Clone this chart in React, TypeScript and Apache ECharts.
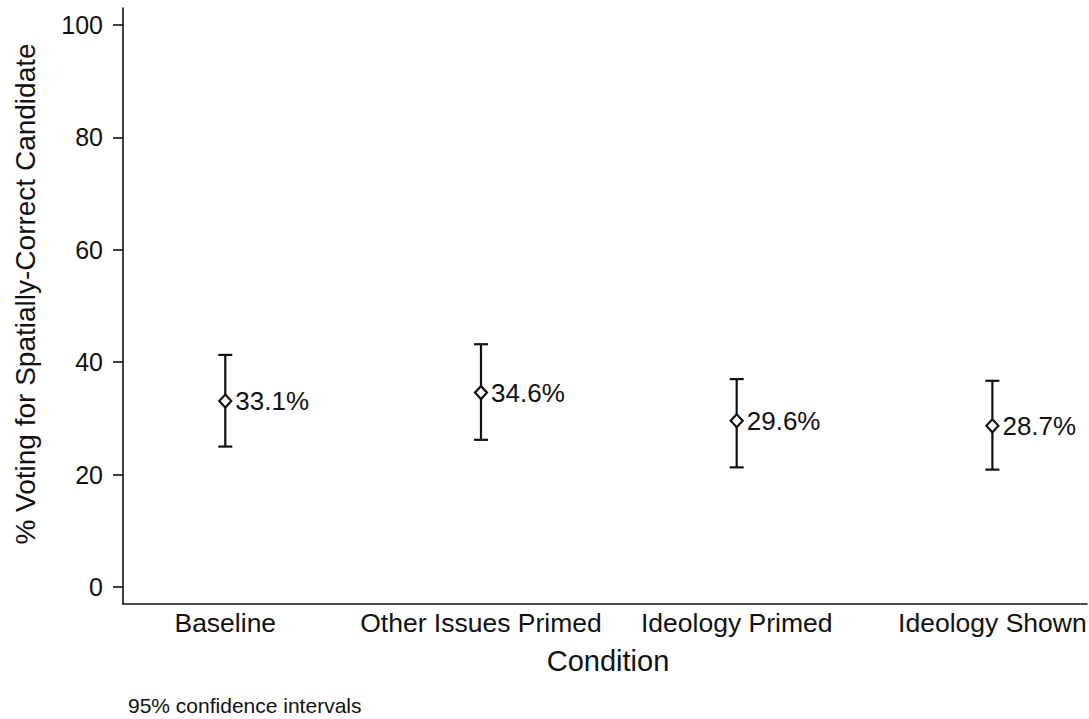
import React, { useEffect, useRef } from "react";
import * as echarts from "echarts";

const categories = ["Baseline", "Other Issues Primed", "Ideology Primed", "Ideology Shown"];
const means = [33.1, 34.6, 29.6, 28.7];
const lower = [25.0, 26.2, 21.3, 20.9];
const upper = [41.3, 43.2, 37.0, 36.7];
const yTicks = [0, 20, 40, 60, 80, 100];
const xPositions = [1, 2, 3, 4];

const FONT = "'Liberation Sans', Arial, Helvetica, sans-serif";
const INK = "#111";

export default function App() {
  const ref = useRef<HTMLDivElement>(null);

  useEffect(() => {
    if (!ref.current) return;
    const chart = echarts.init(ref.current, undefined, { renderer: "svg" });

    const ciData = xPositions.map((x, i) => [x, lower[i], upper[i]]);
    const pointData = xPositions.map((x, i) => [x, means[i]]);

    chart.setOption({
      animation: false,
      backgroundColor: "#ffffff",
      textStyle: { fontFamily: FONT, color: INK },
      grid: { left: 123, right: 2, top: 8, bottom: 115, outerBoundsMode: "none" },
      xAxis: {
        type: "value",
        min: 0.6,
        max: 4.37,
        splitLine: { show: false },
        axisLine: { show: true, onZero: false, lineStyle: { color: INK, width: 1.6 } },
        axisTick: { show: false },
        axisLabel: {
          customValues: xPositions,
          formatter: (v: number) => categories[Math.round(v) - 1] ?? "",
          fontSize: 26.5,
          fontFamily: FONT,
          color: INK,
          margin: 5,
        },
      },
      yAxis: {
        type: "value",
        min: -3,
        max: 103,
        splitLine: { show: false },
        axisLine: { show: true, onZero: false, lineStyle: { color: INK, width: 1.6 } },
        axisTick: { show: true, customValues: yTicks, length: 10, lineStyle: { color: INK, width: 1.6 } },
        axisLabel: {
          customValues: yTicks,
          fontSize: 25,
          fontFamily: FONT,
          color: INK,
          margin: 20,
        },
      },
      graphic: [
        {
          type: "text",
          x: 25,
          y: 294,
          rotation: Math.PI / 2,
          style: {
            text: "% Voting for Spatially-Correct Candidate",
            font: `28px ${FONT}`,
            fill: INK,
            align: "center",
            verticalAlign: "middle",
          },
        },
        {
          type: "text",
          x: 608,
          y: 661,
          style: {
            text: "Condition",
            font: `29px ${FONT}`,
            fill: INK,
            align: "center",
            verticalAlign: "middle",
          },
        },
        {
          type: "text",
          x: 128,
          y: 705,
          style: {
            text: "95% confidence intervals",
            font: `21px ${FONT}`,
            fill: INK,
            align: "left",
            verticalAlign: "middle",
          },
        },
      ],
      series: [
        {
          type: "custom",
          data: ciData,
          z: 2,
          renderItem: (params: any, api: any) => {
            const x = api.value(0);
            const lo = api.coord([x, api.value(1)]);
            const hi = api.coord([x, api.value(2)]);
            const half = 7;
            const style = { stroke: INK, lineWidth: 2.2 };
            return {
              type: "group",
              children: [
                { type: "line", shape: { x1: lo[0], y1: lo[1], x2: hi[0], y2: hi[1] }, style },
                { type: "line", shape: { x1: hi[0] - half, y1: hi[1], x2: hi[0] + half, y2: hi[1] }, style },
                { type: "line", shape: { x1: lo[0] - half, y1: lo[1], x2: lo[0] + half, y2: lo[1] }, style },
              ],
            };
          },
        },
        {
          type: "scatter",
          data: pointData,
          z: 3,
          symbol: "diamond",
          symbolSize: [12, 13],
          itemStyle: { color: "#ffffff", borderColor: INK, borderWidth: 2.2, opacity: 1 },
          label: {
            show: true,
            position: "right",
            distance: 3,
            fontSize: 26,
            fontFamily: FONT,
            color: INK,
            formatter: (p: any) => `${p.value[1].toFixed(1)}%`,
          },
        },
      ],
    });

    return () => chart.dispose();
  }, []);

  return (
    <div
      ref={ref}
      style={{ position: "absolute", left: 0, top: 0, width: 1089, height: 719 }}
    />
  );
}
